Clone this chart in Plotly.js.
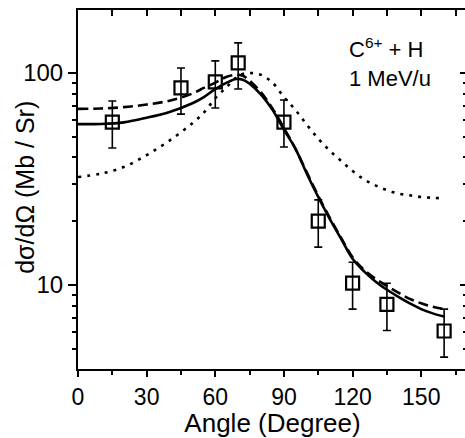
<!DOCTYPE html>
<html>
<head>
<meta charset="utf-8">
<script src="https://cdn.plot.ly/plotly-3.0.1.min.js"></script>
<style>
html,body{margin:0;padding:0;overflow:hidden;background:#fff;}
#chart{width:467px;height:438px;}
</style>
</head>
<body>
<div id="chart"></div>
<script>
// Experimental data: angle (deg), cross section (Mb/Sr) and error bar limits
var expAngle = [15, 45, 60, 70, 90, 105, 120, 135, 160];
var expValue = [58.7, 85, 90.7, 111.5, 58.7, 20, 10.2, 8.1, 6.07];
var expUpper = [73.8, 105.6, 114, 138.6, 74.6, 25.2, 12.8, 10.2, 7.7];
var expLower = [44.3, 64, 68.4, 84, 44.8, 15.1, 7.7, 6.1, 4.57];

// Theory curves
var curveAngle  = [0, 10, 20, 30, 40, 50, 55, 60, 65, 69, 72, 75, 80, 85, 90, 95, 100, 105, 110, 115, 120, 125, 130, 135, 140, 145, 150, 155, 160];
var solidValue  = [57.4, 57.5, 58.5, 61.5, 65.5, 72, 77, 84, 90, 93.7, 93, 89, 79, 67, 54, 44, 33.5, 26, 20.5, 16.5, 13.3, 11.6, 10.4, 9.5, 8.8, 8.2, 7.7, 7.35, 7.1];
var dashedValue = [67.7, 68, 69, 71, 74, 80, 85, 90, 96, 98, 97, 92, 81, 68, 55, 44, 34, 26.3, 20.8, 16.7, 13.5, 11.8, 10.7, 9.9, 9.2, 8.6, 8.2, 7.9, 7.7];
var dottedValue = [32.3, 33.5, 36, 41, 48, 58, 65, 76, 86, 95, 99, 100, 98, 90, 77, 67, 57, 49, 43, 38.5, 34.5, 31.5, 29.5, 28, 27, 26.5, 26, 25.8, 25.6];

// Axis ticks
var xTickVals = [0, 30, 60, 90, 120, 150];
var xTickText = ['0', '30', '60', '90', '120', '150'];
var yTickVals = [10, 100];
var yTickText = ['10', '100'];
var yMinorVals = [5, 6, 7, 8, 9, 20, 30, 40, 50, 60, 70, 80, 90, 200];

var errPlus = expUpper.map(function (u, i) { return u - expValue[i]; });
var errMinus = expLower.map(function (l, i) { return expValue[i] - l; });

var FONT = 'Liberation Sans, Arial, Helvetica, sans-serif';

var traces = [
  {x: curveAngle, y: dottedValue, mode: 'lines', line: {color: '#000', width: 2.6, dash: '3px,6px', shape: 'spline'}, hoverinfo: 'skip'},
  {x: curveAngle, y: dashedValue, mode: 'lines', line: {color: '#000', width: 2.6, dash: '10px,5px', shape: 'spline'}, hoverinfo: 'skip'},
  {x: curveAngle, y: solidValue, mode: 'lines', line: {color: '#000', width: 2.6, shape: 'spline'}, hoverinfo: 'skip'},
  {x: expAngle, y: expValue, mode: 'markers',
   marker: {symbol: 'square-open', size: 13, color: '#000', line: {width: 2.2, color: '#000'}},
   error_y: {type: 'data', symmetric: false, array: errPlus, arrayminus: errMinus, color: '#000', thickness: 1.6, width: 4}}
];

var yRange = [0.604, 2.297];
var xRange = [0, 170];

var layout = {
  width: 467, height: 438,
  margin: {l: 78, r: 0, t: 10, b: 69},
  paper_bgcolor: '#fff', plot_bgcolor: '#fff',
  showlegend: false,
  font: {family: FONT, color: '#000'},
  xaxis: {
    range: xRange, showgrid: false, zeroline: false,
    showline: true, linecolor: '#000', linewidth: 2,
    ticks: 'outside', ticklen: 6, tickwidth: 2, tickcolor: '#000',
    tickmode: 'array', tickvals: xTickVals, ticktext: xTickText,
    tickfont: {family: FONT, size: 23, color: '#000'},
    minor: {dtick: 15, tick0: 0, ticks: 'outside', ticklen: 4, tickwidth: 2, tickcolor: '#000'},
    title: {text: 'Angle (Degree)', font: {family: FONT, size: 26, color: '#000'}, standoff: 2}
  },
  xaxis2: {
    range: xRange, overlaying: 'x', side: 'top', showgrid: false, zeroline: false,
    showline: true, linecolor: '#000', linewidth: 2,
    ticks: 'inside', ticklen: 6, tickwidth: 2, tickcolor: '#000',
    tickmode: 'array', tickvals: xTickVals, showticklabels: false,
    minor: {dtick: 15, tick0: 0, ticks: 'inside', ticklen: 6, tickwidth: 2, tickcolor: '#000'}
  },
  yaxis: {
    type: 'log', range: yRange, showgrid: false, zeroline: false,
    showline: true, linecolor: '#000', linewidth: 2,
    ticks: 'outside', ticklen: 8, tickwidth: 2, tickcolor: '#000',
    tickmode: 'array', tickvals: yTickVals, ticktext: yTickText,
    tickfont: {family: FONT, size: 24, color: '#000'},
    minor: {tickmode: 'array', tickvals: yMinorVals, ticks: 'outside', ticklen: 4, tickwidth: 2, tickcolor: '#000'}
  },
  yaxis2: {
    type: 'log', range: yRange, overlaying: 'y', side: 'right', showgrid: false, zeroline: false,
    showline: true, linecolor: '#000', linewidth: 2,
    ticks: 'inside', ticklen: 7, tickwidth: 2, tickcolor: '#000',
    tickmode: 'array', tickvals: yTickVals, showticklabels: false,
    minor: {tickmode: 'array', tickvals: yMinorVals, ticks: 'inside', ticklen: 4, tickwidth: 2, tickcolor: '#000'}
  },
  annotations: [
    {text: 'dσ/dΩ (Mb / Sr)', textangle: -90, xref: 'paper', yref: 'paper', x: -0.136, y: 0.505, xanchor: 'center', yanchor: 'middle', showarrow: false, font: {family: FONT, size: 25, color: '#000'}},
    {text: 'C<sup>6+</sup> + H<br>1 MeV/u', align: 'left', xref: 'paper', yref: 'paper', x: 0.692, y: 0.855, xanchor: 'left', yanchor: 'middle', showarrow: false, font: {family: FONT, size: 22, color: '#000'}}
  ]
};

// dummy trace to activate mirrored axes
traces.push({x: [xRange[0]], y: [10], xaxis: 'x2', yaxis: 'y2', mode: 'markers', marker: {opacity: 0}, hoverinfo: 'skip'});

Plotly.newPlot('chart', traces, layout, {displayModeBar: false, staticPlot: true});
</script>
</body>
</html>
